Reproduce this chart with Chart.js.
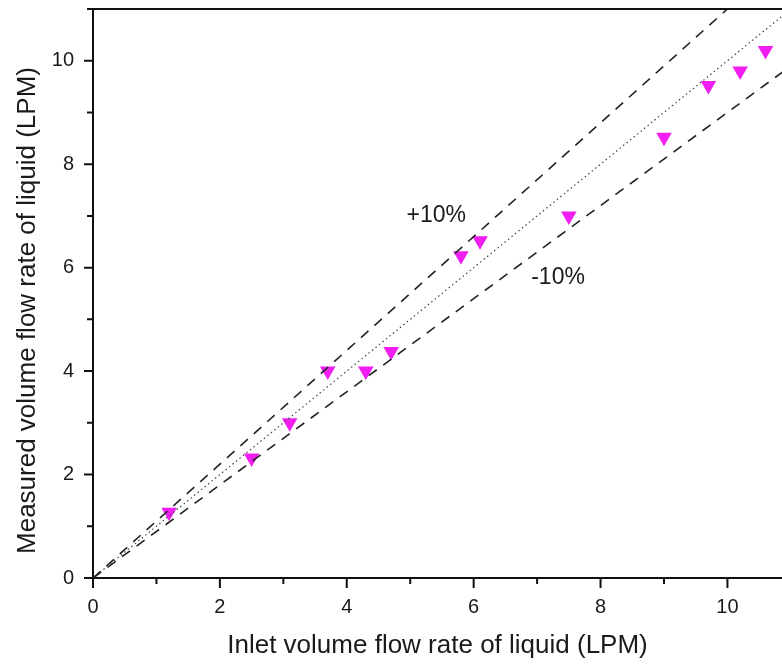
<!DOCTYPE html>
<html>
<head>
<meta charset="utf-8">
<script src="https://cdn.jsdelivr.net/npm/chart.js@4/dist/chart.umd.min.js"></script>
<style>
  html, body { margin: 0; padding: 0; background: #fff; }
  #wrap { width: 782px; height: 664px; }
</style>
</head>
<body>
<div id="wrap"><canvas id="flowChart"></canvas></div>
<script>
// measured points (inlet, measured), LPM
const inletFlow = [1.2, 2.5, 3.1, 3.7, 4.3, 4.7, 5.8, 6.1, 7.5, 9.0, 9.7, 10.2, 10.6];
const measuredFlow = [1.27, 2.32, 3.0, 4.0, 4.0, 4.38, 6.23, 6.52, 7.0, 8.52, 9.52, 9.8, 10.2];

// reference lines
const plusX = [0, 10];
const plusY = [0, 11];
const exactX = [0, 11];
const exactY = [0, 11];
const minusX = [0, 11];
const minusY = [0, 9.9];

const xTicks = [0, 1, 2, 3, 4, 5, 6, 7, 8, 9, 10];
const yTicks = [0, 1, 2, 3, 4, 5, 6, 7, 8, 9, 10, 11];

const noteText = ["+10%", "-10%"];
const noteX = [5.41, 7.33];
const noteY = [7.0, 5.8];

const yTitle = "Measured volume flow rate of liquid (LPM)";
const xTitle = "Inlet volume flow rate of liquid (LPM)";

const toPoints = (xs, ys) => xs.map((x, i) => ({ x: x, y: ys[i] }));

const fontFamily = "'Liberation Sans', Arial, sans-serif";
const textColor = "#1a1a1a";

// outward tick marks, top border, y title and the +/-10% notes
const decorPlugin = {
  id: "decor",
  afterDraw(chart) {
    const ctx = chart.ctx;
    const xs = chart.scales.x;
    const ys = chart.scales.y;
    const area = chart.chartArea;
    ctx.save();
    ctx.strokeStyle = "#111";
    ctx.lineWidth = 2;
    ctx.beginPath();
    xTicks.forEach((v) => {
      const px = xs.getPixelForValue(v);
      const len = v % 2 === 0 ? 10 : 6;
      ctx.moveTo(px, area.bottom);
      ctx.lineTo(px, area.bottom + len);
    });
    yTicks.forEach((v) => {
      const py = ys.getPixelForValue(v);
      const len = v % 2 === 0 ? 9 : 6;
      ctx.moveTo(area.left, py);
      ctx.lineTo(area.left - len, py);
    });
    ctx.moveTo(area.left - 6, area.top);
    ctx.lineTo(area.right, area.top);
    ctx.stroke();

    ctx.fillStyle = textColor;
    ctx.font = "23px " + fontFamily;
    ctx.textAlign = "center";
    ctx.textBaseline = "middle";
    noteText.forEach((t, i) => {
      ctx.fillText(t, xs.getPixelForValue(noteX[i]), ys.getPixelForValue(noteY[i]));
    });

    ctx.translate(28, (area.top + area.bottom) / 2 + 17);
    ctx.rotate(-Math.PI / 2);
    ctx.font = "26px " + fontFamily;
    ctx.fillText(yTitle, 0, 0);
    ctx.restore();
  },
};

const ctx = document.getElementById("flowChart").getContext("2d");
new Chart(ctx, {
  type: "scatter",
  data: {
    datasets: [
      {
        label: "+10%",
        data: toPoints(plusX, plusY),
        showLine: true,
        borderColor: "#222",
        borderWidth: 1.6,
        borderDash: [10, 8],
        pointRadius: 0,
      },
      {
        label: "y = x",
        data: toPoints(exactX, exactY),
        showLine: true,
        borderColor: "#444",
        borderWidth: 1.2,
        borderDash: [1.5, 3],
        pointRadius: 0,
      },
      {
        label: "-10%",
        data: toPoints(minusX, minusY),
        showLine: true,
        borderColor: "#222",
        borderWidth: 1.6,
        borderDash: [10, 8],
        pointRadius: 0,
      },
      {
        label: "origin",
        data: [{ x: 0, y: 0 }],
        pointStyle: "rect",
        pointRadius: 2.5,
        backgroundColor: "#000",
        borderWidth: 0,
      },
      {
        label: "Measured",
        data: toPoints(inletFlow, measuredFlow),
        pointStyle: "triangle",
        rotation: 180,
        pointRadius: 9,
        backgroundColor: "#f01ef0",
        borderColor: "#f01ef0",
        borderWidth: 0,
      },
    ],
  },
  options: {
    responsive: true,
    maintainAspectRatio: false,
    animation: false,
    layout: { autoPadding: false, padding: { top: 9, right: 0, left: 0, bottom: 0 } },
    plugins: {
      legend: { display: false },
      tooltip: { enabled: false },
    },
    scales: {
      x: {
        type: "linear",
        min: 0,
        max: 10.86,
        grid: { display: false, drawTicks: false },
        border: { display: true, color: "#111", width: 2 },
        afterFit: (scale) => {
          scale.height = 86;
          scale.paddingLeft = 0;
          scale.paddingRight = 0;
        },
        ticks: {
          stepSize: 1,
          includeBounds: false,
          autoSkip: false,
          maxRotation: 0,
          padding: 17,
          color: textColor,
          font: { family: fontFamily, size: 20 },
          callback: (v) => (v % 2 === 0 ? v : ""),
        },
        title: {
          display: true,
          text: xTitle,
          color: textColor,
          font: { family: fontFamily, size: 26 },
          padding: { top: 0, bottom: 3 },
        },
      },
      y: {
        type: "linear",
        min: 0,
        max: 11,
        grid: { display: false, drawTicks: false },
        border: { display: true, color: "#111", width: 2 },
        afterFit: (scale) => {
          scale.width = 93;
          scale.paddingTop = 0;
          scale.paddingBottom = 0;
        },
        ticks: {
          stepSize: 1,
          includeBounds: false,
          autoSkip: false,
          padding: 19,
          color: textColor,
          font: { family: fontFamily, size: 20 },
          callback: (v) => (v % 2 === 0 ? v : ""),
        },
      },
    },
  },
  plugins: [decorPlugin],
});
</script>
</body>
</html>
